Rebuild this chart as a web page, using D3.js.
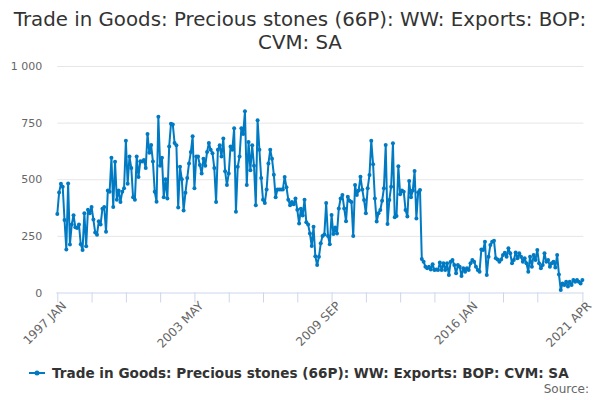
<!DOCTYPE html>
<html>
<head>
<meta charset="utf-8">
<script src="https://cdn.jsdelivr.net/npm/d3@7"></script>
<style>
  html, body { margin: 0; padding: 0; background: #fff; }
  svg { display: block; font-family: "DejaVu Sans", sans-serif; }
</style>
</head>
<body>
<div id="chart"></div>
<script>
// ---- data ----
const titleLines = ["Trade in Goods: Precious stones (66P): WW: Exports: BOP:", "CVM: SA"];
const seriesName = "Trade in Goods: Precious stones (66P): WW: Exports: BOP: CVM: SA";
const startYear = 1997;
const monthNames = ["JAN","FEB","MAR","APR","MAY","JUN","JUL","AUG","SEP","OCT","NOV","DEC"];

const values1997_2001 = [
  347, 441, 480, 467, 320, 190, 481, 212, 300, 341, 288, 285,
  300, 213, 188, 350, 204, 365, 350, 378, 322, 265, 255, 315,
  300, 370, 378, 268, 450, 445, 595, 378, 577, 410, 450, 400,
  445, 460, 670, 480, 600, 550, 420, 410, 600, 510, 580, 578,
  585, 550, 700, 617, 651, 578, 445, 401, 776, 560, 595, 420
];
const values2002_2006 = [
  500, 415, 645, 745, 742, 660, 650, 375, 555, 500, 362, 440,
  505, 570, 620, 690, 460, 600, 600, 563, 525, 590, 560, 620,
  660, 630, 615, 550, 400, 630, 650, 600, 680, 535, 475, 525,
  645, 630, 725, 357, 555, 600, 725, 700, 800, 475, 665, 540,
  650, 560, 385, 760, 630, 505, 410, 395, 455, 570, 630, 590
];
const values2007_2011 = [
  520, 420, 455, 455, 455, 455, 510, 465, 410, 385, 400, 390,
  415, 365, 305, 370, 340, 410, 310, 300, 260, 205, 290, 160,
  121, 158, 217, 250, 256, 395, 250, 213, 342, 258, 287, 261,
  371, 415, 430, 371, 315, 423, 405, 400, 250, 475, 430, 450,
  511, 455, 408, 350, 460, 519, 670, 566, 415, 313, 350, 364
];
const values2012_2016 = [
  405, 460, 651, 302, 408, 467, 659, 332, 338, 557, 434, 450,
  445, 364, 335, 492, 420, 450, 536, 327, 443, 452, 148, 136,
  114, 107, 114, 102, 125, 99, 102, 99, 132, 99, 129, 99,
  129, 77, 136, 144, 121, 85, 121, 114, 73, 107, 92, 107,
  99, 129, 144, 136, 114, 99, 92, 190, 188, 224, 77, 158
];
const values2017_2021 = [
  210, 224, 229, 151, 146, 136, 146, 166, 176, 158, 195, 173,
  129, 144, 177, 151, 173, 158, 136, 151, 129, 92, 158, 114,
  166, 144, 188, 129, 107, 121, 173, 136, 144, 114, 129, 136,
  110, 166, 80, 11, 40, 33, 48, 26, 48, 33, 55, 48,
  55, 48, 40, 55
];
const values = [].concat(values1997_2001, values2002_2006, values2007_2011, values2012_2016, values2017_2021);
const categories = values.map((_, i) => (startYear + Math.floor(i / 12)) + " " + monthNames[i % 12]);

const yTicks = [0, 250, 500, 750, 1000];
const xTickIndex = [0, 19, 38, 57, 76, 95, 114, 133, 152, 171, 190, 209, 228, 247, 266, 291];
const xLabelIndex = [0, 76, 152, 228, 291];

// ---- layout ----
const W = 600, H = 400;
const plot = { left: 57.3, right: 582.4, top: 66, bottom: 292.5 };
const lineColor = "#007ac3";

const svg = d3.select("#chart").append("svg").attr("width", W).attr("height", H);

// title
svg.append("text")
  .attr("x", W / 2).attr("y", 26)
  .attr("text-anchor", "middle")
  .style("font-size", "19.8px").style("fill", "#333333")
  .selectAll("tspan").data(titleLines).join("tspan")
  .attr("x", W / 2).attr("dy", (d, i) => i === 0 ? 0 : 23).text(d => d);

const x = d3.scaleLinear().domain([0, values.length - 1]).range([plot.left, plot.right]);
const y = d3.scaleLinear().domain([0, 1000]).range([plot.bottom, plot.top]);

const fmt = d3.formatLocale({ decimal: ".", thousands: " ", grouping: [3], currency: ["", ""] }).format(",d");

// y axis + grid
const yAxis = svg.append("g")
  .attr("transform", `translate(${plot.left},0)`)
  .call(d3.axisLeft(y).tickValues(yTicks).tickFormat(fmt).tickSize(-(plot.right - plot.left + 1)).tickPadding(15));
yAxis.select(".domain").remove();
yAxis.selectAll(".tick line").attr("stroke", "#e6e6e6");
yAxis.selectAll(".tick text").style("font-size", "11px").style("fill", "#666666").attr("font-family", "DejaVu Sans, sans-serif");
yAxis.selectAll(".tick").filter(d => d === 0).select("line").remove();

// x axis
const xAxis = svg.append("g")
  .attr("transform", `translate(0,${plot.bottom})`)
  .call(d3.axisBottom(x).tickValues(xTickIndex).tickSize(10).tickSizeOuter(0)
    .tickFormat(i => xLabelIndex.includes(i) ? categories[i] : ""));
xAxis.select(".domain").attr("stroke", "#ccd6eb").attr("d", `M${plot.left - 1},0.5H${plot.right + 1}`);
xAxis.selectAll(".tick line").attr("stroke", "#ccd6eb");
xAxis.selectAll(".tick text")
  .style("font-size", "12px").style("fill", "#666666").attr("font-family", "DejaVu Sans, sans-serif")
  .attr("text-anchor", "end")
  .attr("transform", "translate(2,4) rotate(-45)")
  .attr("dy", "0.35em").attr("y", 8).attr("x", -2);

// line
const line = d3.line().x((d, i) => x(i)).y(d => y(d));
svg.append("path").datum(values)
  .attr("fill", "none").attr("stroke", lineColor).attr("stroke-width", 2)
  .attr("stroke-linejoin", "round").attr("d", line);
svg.append("g").selectAll("circle").data(values).join("circle")
  .attr("cx", (d, i) => x(i)).attr("cy", d => y(d)).attr("r", 2)
  .attr("fill", lineColor);

// legend
const lg = svg.append("g").attr("transform", "translate(29,373)");
lg.append("line").attr("x1", 0).attr("x2", 16).attr("y1", 0).attr("y2", 0)
  .attr("stroke", lineColor).attr("stroke-width", 2);
lg.append("circle").attr("cx", 8).attr("cy", 0).attr("r", 2.5).attr("fill", lineColor);
lg.append("text").attr("x", 23).attr("y", 5)
  .style("font-size", "13.6px").style("font-weight", "bold").style("fill", "#333333")
  .text(seriesName);

// credits
svg.append("text").attr("x", 589).attr("y", 393).attr("text-anchor", "end")
  .style("font-size", "12px").style("fill", "#666666").text("Source:");
</script>
</body>
</html>
